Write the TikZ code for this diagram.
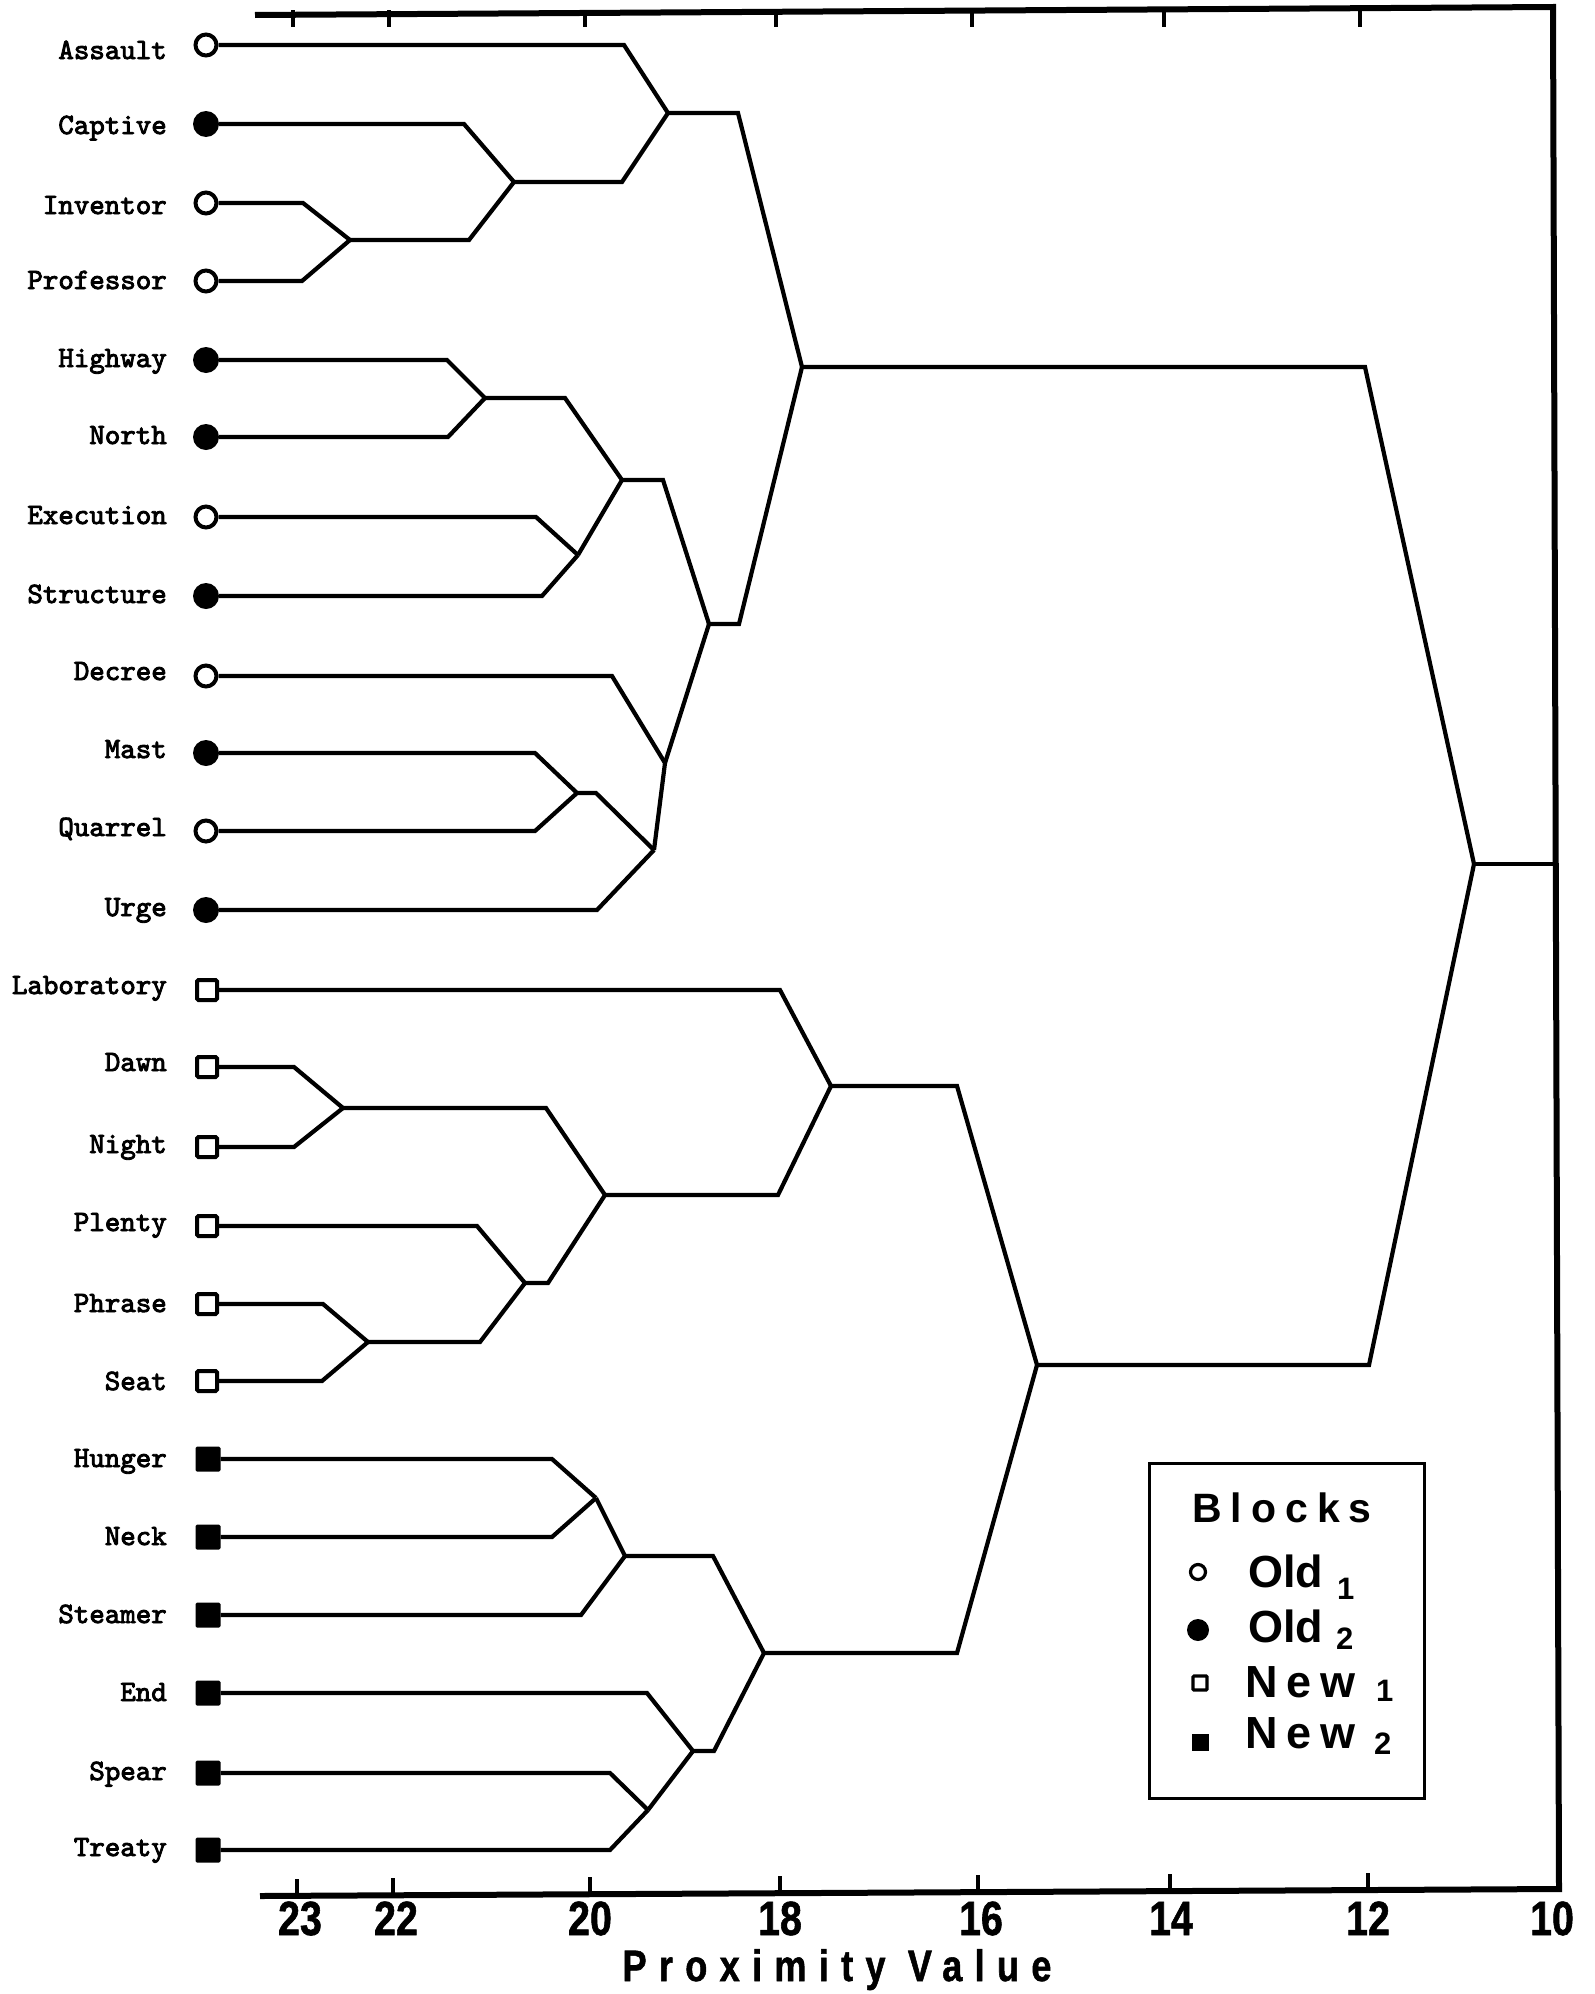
\documentclass[tikz,border=0pt]{standalone}
\usepackage{fontspec}
\newfontfamily\axfont[FakeStretch=0.82,FakeBold=1.2]{Liberation Sans}
\newfontfamily\lgfont{Liberation Sans}
\newfontfamily\labfont[FakeBold=3]{lmmono10-regular.otf}
\begin{document}
\begin{tikzpicture}[x=1pt,y=-1pt,
  dl/.style={line width=4.2pt, line join=miter},
  ax/.style={line width=6pt, line join=miter},
  tk/.style={line width=4.5pt},
  ocirc/.style={circle, draw, line width=4pt, fill=white, minimum size=21pt, inner sep=0pt},
  fcirc/.style={circle, fill=black, minimum size=26pt, inner sep=0pt},
  osq/.style={rectangle, draw, line width=4pt, fill=white, minimum size=20pt, inner sep=0pt, rounded corners=1.5pt},
  fsq/.style={rectangle, fill=black, minimum size=25pt, inner sep=0pt, rounded corners=1.5pt},
  lab/.style={anchor=base east, inner sep=0pt, font=\labfont\fontsize{29.5}{30}\selectfont},
  num/.style={anchor=base, inner sep=0pt, font=\axfont\bfseries\fontsize{48}{48}\selectfont},
  lgt/.style={anchor=base west, inner sep=0pt, font=\lgfont\bfseries\fontsize{45}{45}\selectfont},
  lgn/.style={anchor=base west, inner sep=0pt, font=\lgfont\bfseries\fontsize{45}{45}\selectfont\addfontfeatures{LetterSpace=20}},
  lgs/.style={anchor=base west, inner sep=0pt, font=\lgfont\bfseries\fontsize{31}{31}\selectfont}
]
\useasboundingbox (0,0) rectangle (1595,1994);

% ---------- frame / axes ----------
\coordinate (axTL) at (255,15);
\coordinate (axTR) at (1553,7);
\coordinate (axBR) at (1559,1889);
\coordinate (axBL) at (260,1896);
\draw[ax] (axTL) -- (axTR) -- (axBR) -- (axBL);
\foreach \x in {293,389,585,776,972,1164,1360} \draw[tk] (\x,10) -- (\x,27);
\foreach \x/\yy in {297/1896,393/1895,590/1894,780/1893,978/1892,1170/1891,1368/1890} \draw[tk] (\x,\yy) -- (\x,\yy-17);

\node[num] (n23) at (300,1935) {23};
\node[num] (n22) at (396,1935) {22};
\node[num] (n20) at (590,1935) {20};
\node[num] (n18) at (780,1935) {18};
\node[num] (n16) at (981,1935) {16};
\node[num] (n14) at (1171,1935) {14};
\node[num] (n12) at (1368,1935) {12};
\node[num] (n10) at (1552,1935) {10};
\node[anchor=base, inner sep=0pt, font=\axfont\bfseries\fontsize{44}{44}\selectfont\addfontfeatures{LetterSpace=28}] (xlabel) at (837,1981) {Proximity Value};

% ---------- leaves ----------
\node[ocirc] (Lassault) at (206,45) {};     \node[lab] (Tassault) at (167,59) {Assault};
\node[fcirc] (Lcaptive) at (206,124) {};    \node[lab] (Tcaptive) at (167,134) {Captive};
\node[ocirc] (Linventor) at (206,203) {};   \node[lab] (Tinventor) at (167,214) {Inventor};
\node[ocirc] (Lprofessor) at (206,281) {};  \node[lab] (Tprofessor) at (167,289) {Professor};
\node[fcirc] (Lhighway) at (206,360) {};    \node[lab] (Thighway) at (167,367) {Highway};
\node[fcirc] (Lnorth) at (206,437) {};      \node[lab] (Tnorth) at (167,444) {North};
\node[ocirc] (Lexecution) at (206,517) {};  \node[lab] (Texecution) at (167,524) {Execution};
\node[fcirc] (Lstructure) at (206,596) {};  \node[lab] (Tstructure) at (167,603) {Structure};
\node[ocirc] (Ldecree) at (206,676) {};     \node[lab] (Tdecree) at (167,680) {Decree};
\node[fcirc] (Lmast) at (206,753) {};       \node[lab] (Tmast) at (167,758) {Mast};
\node[ocirc] (Lquarrel) at (206,831) {};    \node[lab] (Tquarrel) at (167,836) {Quarrel};
\node[fcirc] (Lurge) at (206,910) {};       \node[lab] (Turge) at (167,916) {Urge};
\node[osq] (Llaboratory) at (207,990) {};   \node[lab] (Tlaboratory) at (167,994) {Laboratory};
\node[osq] (Ldawn) at (207,1067) {};        \node[lab] (Tdawn) at (167,1071) {Dawn};
\node[osq] (Lnight) at (207,1147) {};       \node[lab] (Tnight) at (167,1153) {Night};
\node[osq] (Lplenty) at (207,1226) {};      \node[lab] (Tplenty) at (167,1231) {Plenty};
\node[osq] (Lphrase) at (207,1304) {};      \node[lab] (Tphrase) at (167,1312) {Phrase};
\node[osq] (Lseat) at (207,1381) {};        \node[lab] (Tseat) at (167,1390) {Seat};
\node[fsq] (Lhunger) at (208,1459) {};      \node[lab] (Thunger) at (167,1467) {Hunger};
\node[fsq] (Lneck) at (208,1537) {};        \node[lab] (Tneck) at (167,1545) {Neck};
\node[fsq] (Lsteamer) at (208,1615) {};     \node[lab] (Tsteamer) at (167,1623) {Steamer};
\node[fsq] (Lend) at (208,1693) {};         \node[lab] (Tend) at (167,1701) {End};
\node[fsq] (Lspear) at (208,1773) {};       \node[lab] (Tspear) at (167,1780) {Spear};
\node[fsq] (Ltreaty) at (208,1850) {};      \node[lab] (Ttreaty) at (167,1856) {Treaty};

% ---------- merge points ----------
\coordinate (IP) at (350,240);
\coordinate (CIP) at (514,182);
\coordinate (A) at (668,113);
\coordinate (HN) at (485,398);
\coordinate (ES) at (578,555);
\coordinate (HNES) at (622,480);
\coordinate (MQ) at (577,793);
\coordinate (MQU) at (654,850);
\coordinate (DMQU) at (665,763);
\coordinate (B) at (709,624);
\coordinate (AB) at (802,367);
\coordinate (DN) at (343,1108);
\coordinate (PS) at (368,1342);
\coordinate (PPS) at (525,1283);
\coordinate (DNPPS) at (605,1195);
\coordinate (C) at (831,1086);
\coordinate (HN2) at (596,1498);
\coordinate (HNS) at (625,1556);
\coordinate (ST) at (648,1810);
\coordinate (EST) at (693,1751);
\coordinate (D) at (764,1653);
\coordinate (CD) at (1037,1365);
\coordinate (R) at (1474,864);

% ---------- connectors ----------
\draw[dl] (Linventor.east) -- (Linventor.east -| 303,0) -- (IP);
\draw[dl] (Lprofessor.east) -- (Lprofessor.east -| 302,0) -- (IP);
\draw[dl] (Lcaptive.east) -- (Lcaptive.east -| 464,0) -- (CIP);
\draw[dl] (IP) -- (IP -| 469,0) -- (CIP);
\draw[dl] (Lassault.east) -- (Lassault.east -| 624,0) -- (A);
\draw[dl] (CIP) -- (CIP -| 622,0) -- (A);

\draw[dl] (Lhighway.east) -- (Lhighway.east -| 447,0) -- (HN);
\draw[dl] (Lnorth.east) -- (Lnorth.east -| 448,0) -- (HN);
\draw[dl] (Lexecution.east) -- (Lexecution.east -| 536,0) -- (ES);
\draw[dl] (Lstructure.east) -- (Lstructure.east -| 542,0) -- (ES);
\draw[dl] (HN) -- (HN -| 565,0) -- (HNES);
\draw[dl] (ES) -- (HNES);
\draw[dl] (Lmast.east) -- (Lmast.east -| 535,0) -- (MQ);
\draw[dl] (Lquarrel.east) -- (Lquarrel.east -| 535,0) -- (MQ);
\draw[dl] (MQ) -- (MQ -| 596,0) -- (MQU);
\draw[dl] (Lurge.east) -- (Lurge.east -| 597,0) -- (MQU);
\draw[dl] (Ldecree.east) -- (Ldecree.east -| 612,0) -- (DMQU);
\draw[dl] (MQU) -- (DMQU);
\draw[dl] (HNES) -- (HNES -| 663,0) -- (B);
\draw[dl] (DMQU) -- (B);
\draw[dl] (A) -- (A -| 738,0) -- (AB);
\draw[dl] (B) -- (B -| 739,0) -- (AB);

\draw[dl] (Ldawn.east) -- (Ldawn.east -| 294,0) -- (DN);
\draw[dl] (Lnight.east) -- (Lnight.east -| 294,0) -- (DN);
\draw[dl] (Lphrase.east) -- (Lphrase.east -| 323,0) -- (PS);
\draw[dl] (Lseat.east) -- (Lseat.east -| 322,0) -- (PS);
\draw[dl] (Lplenty.east) -- (Lplenty.east -| 477,0) -- (PPS);
\draw[dl] (PS) -- (PS -| 480,0) -- (PPS);
\draw[dl] (DN) -- (DN -| 546,0) -- (DNPPS);
\draw[dl] (PPS) -- (PPS -| 548,0) -- (DNPPS);
\draw[dl] (Llaboratory.east) -- (Llaboratory.east -| 780,0) -- (C);
\draw[dl] (DNPPS) -- (DNPPS -| 778,0) -- (C);

\draw[dl] (Lhunger.east) -- (Lhunger.east -| 552,0) -- (HN2);
\draw[dl] (Lneck.east) -- (Lneck.east -| 552,0) -- (HN2);
\draw[dl] (HN2) -- (HNS);
\draw[dl] (Lsteamer.east) -- (Lsteamer.east -| 581,0) -- (HNS);
\draw[dl] (Lspear.east) -- (Lspear.east -| 610,0) -- (ST);
\draw[dl] (Ltreaty.east) -- (Ltreaty.east -| 610,0) -- (ST);
\draw[dl] (Lend.east) -- (Lend.east -| 647,0) -- (EST);
\draw[dl] (ST) -- (EST);
\draw[dl] (HNS) -- (HNS -| 713,0) -- (D);
\draw[dl] (EST) -- (EST -| 714,0) -- (D);
\draw[dl] (C) -- (C -| 957,0) -- (CD);
\draw[dl] (D) -- (D -| 957,0) -- (CD);

\draw[dl] (AB) -- (AB -| 1365,0) -- (R);
\draw[dl] (CD) -- (CD -| 1369,0) -- (R);
\draw[dl] (R) -- (R -| 1556,0);

% ---------- legend ----------
\node[draw, line width=3.2pt, anchor=north west, minimum width=275pt, minimum height=335pt, inner sep=0pt] (legend) at (1148,1462) {};
\node[anchor=base west, inner sep=0pt, font=\lgfont\bfseries\fontsize{41}{41}\selectfont\addfontfeatures{LetterSpace=22}] (lgtitle) at (1192,1522) {Blocks};
\node[circle, draw, line width=3.2pt, minimum size=15pt, inner sep=0pt] (lgo1) at (1198,1572) {};
\node[circle, fill=black, minimum size=22pt, inner sep=0pt] (lgo2) at (1198,1630) {};
\node[rectangle, draw, line width=3.2pt, minimum size=14pt, inner sep=0pt, rounded corners=1pt] (lgn1) at (1200,1683) {};
\node[rectangle, fill=black, minimum size=17pt, inner sep=0pt] (lgn2) at (1200,1742) {};
\node[lgt] (lgo1t) at (1248,1587) {Old};
\node[lgs] (lgo1s) at (1337,1599) {1};
\node[lgt] (lgo2t) at (1248,1642) {Old};
\node[lgs] (lgo2s) at (1336,1649) {2};
\node[lgn] (lgn1t) at (1245,1697) {New};
\node[lgs] (lgn1s) at (1376,1701) {1};
\node[lgn] (lgn2t) at (1245,1748) {New};
\node[lgs] (lgn2s) at (1374,1754) {2};
\end{tikzpicture}
\end{document}
